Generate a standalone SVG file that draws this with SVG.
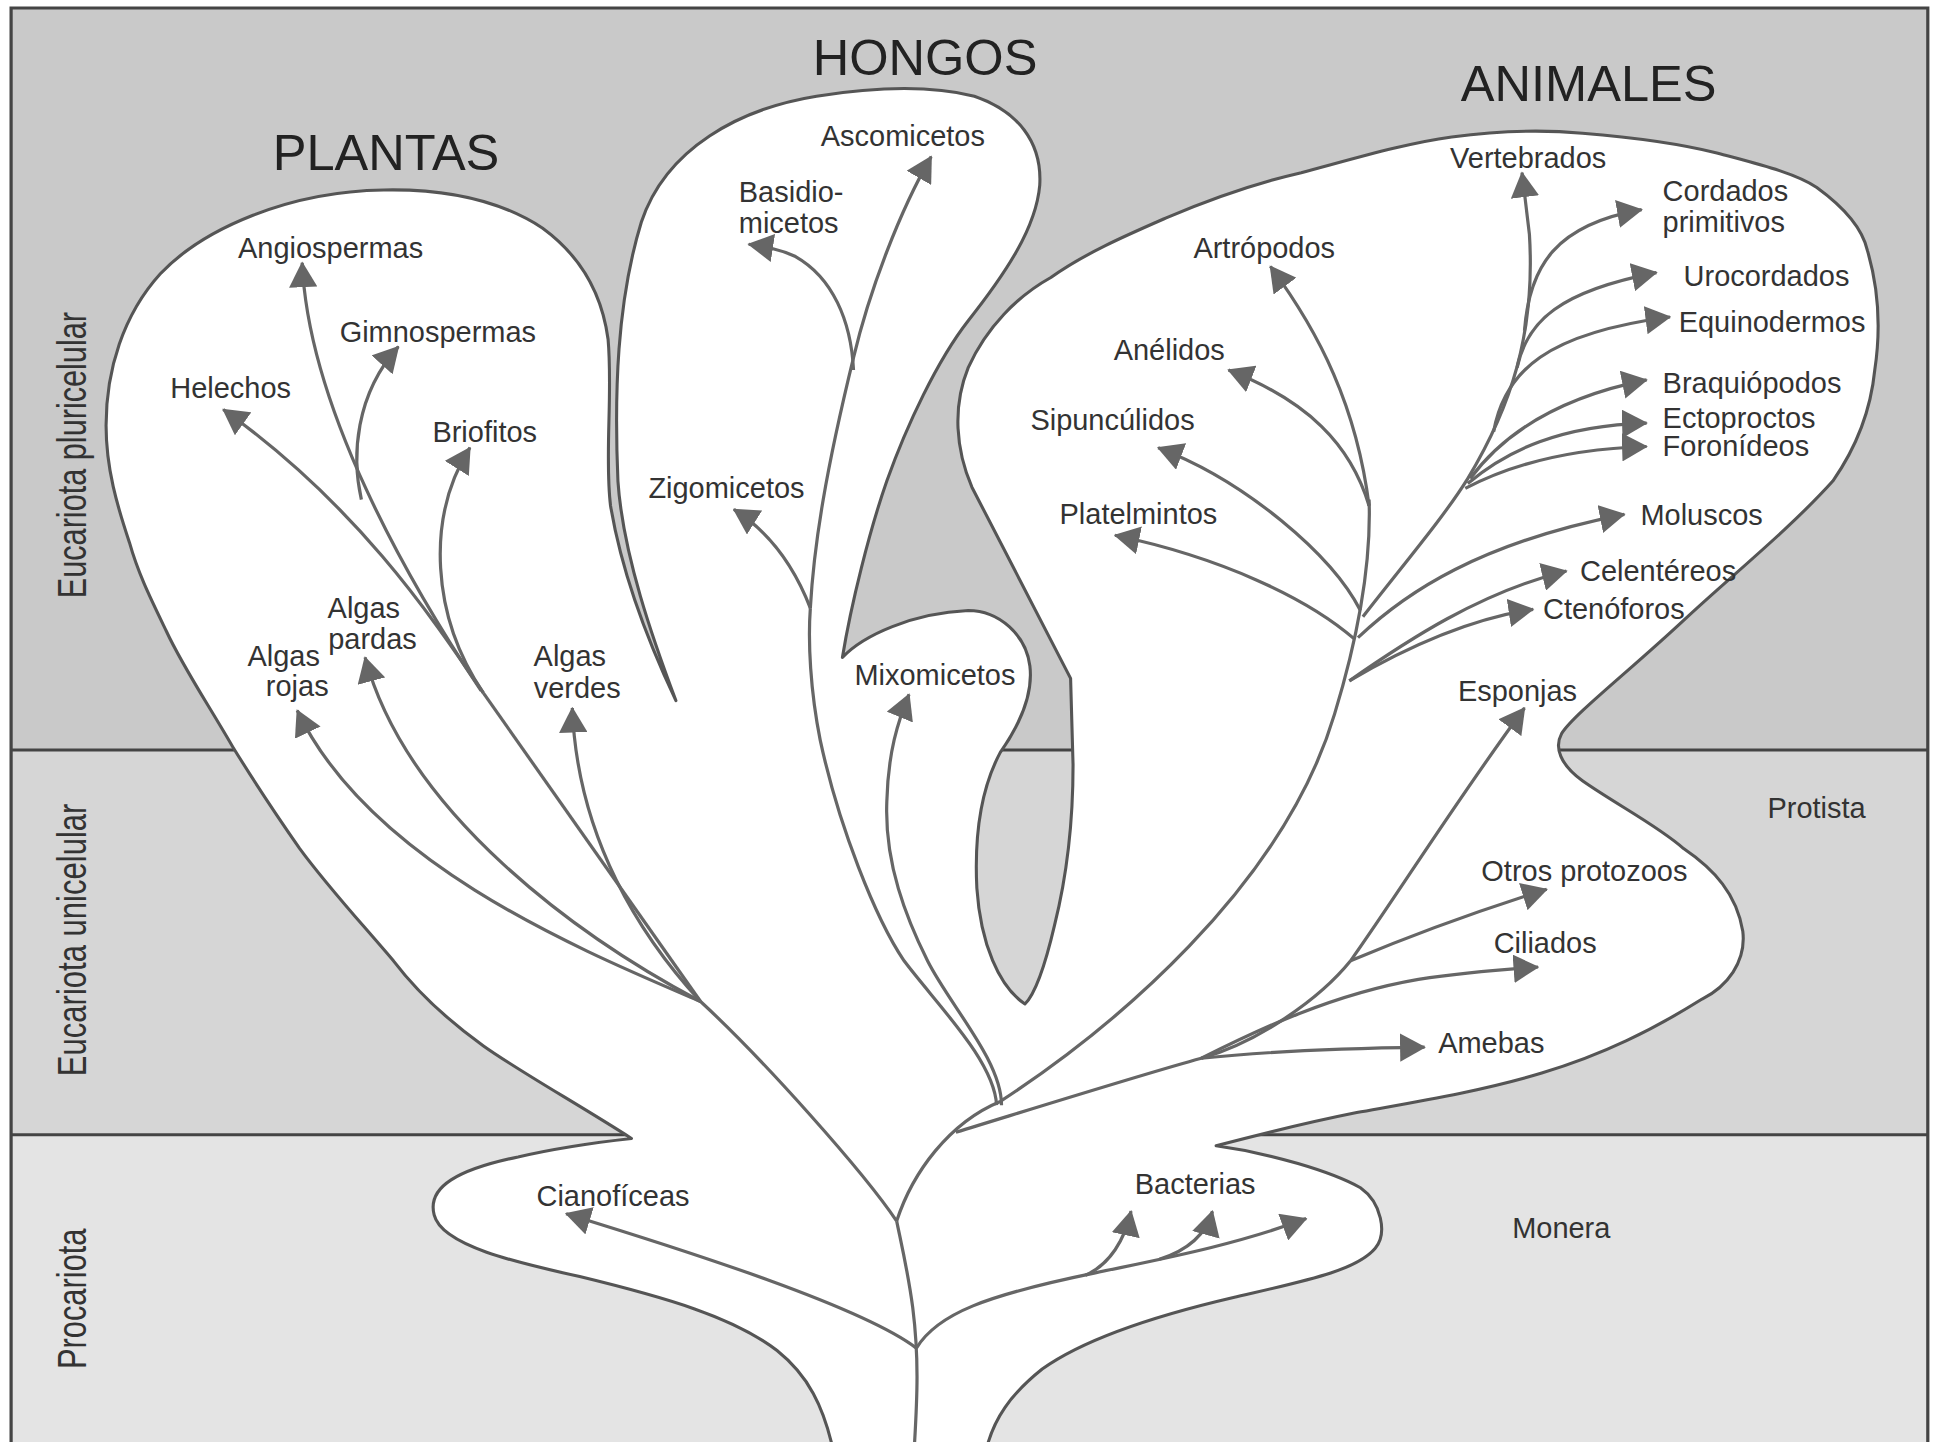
<svg xmlns="http://www.w3.org/2000/svg" width="1934" height="1442" viewBox="0 0 1934 1442">
<style>
.lbl{font-family:"Liberation Sans",Arial,sans-serif;font-size:23.5px;fill:#333}
.hdr{font-family:"Liberation Sans",Arial,sans-serif;font-size:41px;fill:#222;text-anchor:middle}
.side{font-family:"Liberation Sans",Arial,sans-serif;font-size:33px;fill:#333;text-anchor:middle}
.m{text-anchor:middle}
.st{fill:none;stroke:#666;stroke-width:2.6}
.br{fill:none;stroke:#666;stroke-width:2.6;marker-end:url(#ah)}
</style>
<defs>
<marker id="ah" viewBox="0 0 20 22" refX="19" refY="11" markerWidth="21" markerHeight="23" markerUnits="userSpaceOnUse" orient="auto"><path d="M0,0 L20,11 L0,22 Z" fill="#666"/></marker>
</defs>
<rect width="1934" height="1442" fill="#fff"/>
<g transform="scale(1.2334)">
<g id="bands">
<rect x="9" y="6.5" width="1554" height="601.5" fill="#c9c9c9"/>
<rect x="9" y="608" width="1554" height="312" fill="#d6d6d6"/>
<rect x="9" y="920" width="1554" height="260" fill="#e4e4e4"/>
<line x1="9" y1="608" x2="1563" y2="608" stroke="#444" stroke-width="2.4"/>
<line x1="9" y1="920" x2="1563" y2="920" stroke="#444" stroke-width="2.4"/>
<path d="M9,1180 L9,6.5 L1563,6.5 L1563,1180" fill="none" stroke="#444" stroke-width="2.6"/>
</g>
<path id="outline" fill="#fff" stroke="#555" stroke-width="2.5" stroke-linejoin="round" d="M676,1178 C668,1140 655,1115 630,1095 C595,1068 540,1052 470,1035 C420,1024 358,1010 352,985 C346,962 372,948 420,938 C450,931 485,926 512,923 C470,896 420,868 392,848 C360,825 335,800 319,779 C290,745 265,718 243,688 C220,655 205,632 189,606 C165,565 148,540 135,512 C122,485 112,465 105,440 C95,410 86,380 86,345 C86,300 100,255 130,222 C165,185 235,155 311,154 C360,153 405,162 440,185 C470,207 488,238 493,275 C497,320 490,370 495,410 C505,470 530,530 548,568 C530,520 505,450 501,390 C498,320 500,245 520,180 C540,120 600,88 662,78 C700,72 750,68 790,78 C825,90 845,115 843,150 C840,185 815,222 785,260 C760,292 735,345 719,390 C705,430 690,490 683,533 C700,515 740,497 785,495 C810,495 832,515 835,540 C838,565 825,590 811,610 C795,640 790,680 792,720 C795,765 810,800 831,814 C840,805 848,780 855,750 C865,710 870,670 870,620 L868,550 L788,395 C775,365 772,330 785,298 C800,265 825,240 852,225 C880,205 915,190 947,176 C985,160 1020,148 1055,140 C1100,128 1140,116 1177,111 C1215,106 1250,105 1283,108 C1320,111 1360,116 1392,124 C1425,133 1455,140 1473,152 C1495,168 1510,185 1514,203 C1522,230 1526,260 1520,300 C1516,340 1500,370 1486,390 C1450,430 1400,470 1365,503 C1320,545 1275,580 1266,595 C1260,606 1265,620 1283,633 C1310,652 1345,670 1365,688 C1390,705 1408,725 1413,755 C1416,780 1400,800 1380,810 C1340,835 1300,855 1250,870 C1200,885 1150,893 1100,902 C1060,910 1020,920 986,929 C1030,935 1080,950 1103,963 C1120,975 1125,1000 1115,1012 C1100,1030 1060,1038 1000,1052 C940,1066 880,1085 845,1110 C820,1130 805,1150 799,1178 Z"/>
<g id="connectors">
<path class="st" d="M741,1178 C744,1130 745,1100 740,1060 C736,1030 730,1005 727,990"/>
<path class="st" d="M727,990 C700,950 620,860 568,812"/>
<path class="st" d="M568,812 L392,562"/>
<path class="br" d="M392,562 C350,500 290,410 181,332"/>
<path class="br" d="M390,560 C330,470 250,330 245,213"/>
<path class="br" d="M293,405 C285,370 288,320 323,281"/>
<path class="br" d="M392,562 C350,500 345,420 381,363"/>
<path class="br" d="M568,812 C470,770 300,700 241,576"/>
<path class="br" d="M568,812 C470,760 330,660 296,533"/>
<path class="br" d="M568,812 C520,760 468,680 464,574"/>
<path class="br" d="M743,1093 C700,1060 560,1015 459,984"/>
<path class="br" d="M743,1093 C760,1065 800,1050 888,1032 C940,1021 1000,1010 1059,988"/>
<path class="br" d="M880,1034 C900,1025 912,1005 917,982"/>
<path class="br" d="M940,1021 C965,1013 978,1000 983,982"/>
<path class="st" d="M727,990 C740,950 770,910 811,893"/>
<path class="st" d="M808,896 C806,860 760,815 733,779 C710,745 680,670 665,600 C657,560 655,520 657,493"/>
<path class="br" d="M657,493 C660,440 670,380 692,290 C705,235 730,170 755,127"/>
<path class="br" d="M692,300 C690,260 675,225 645,208 C632,202 620,200 607,198"/>
<path class="br" d="M657,493 C645,462 625,432 595,413"/>
<path class="br" d="M812,896 C812,860 770,815 752,779 C735,745 717,700 719,650 C720,610 728,585 737,563"/>
<path class="st" d="M811,893 C900,835 1040,720 1082,579 C1100,520 1112,460 1110,405"/>
<path class="br" d="M1110,410 C1100,330 1070,270 1030,216"/>
<path class="br" d="M1110,410 C1095,360 1060,325 996,300"/>
<path class="br" d="M1103,495 C1080,450 1010,390 939,363"/>
<path class="br" d="M1098,518 C1060,485 990,452 904,434"/>
<path class="br" d="M1105,500 C1140,455 1170,420 1190,388 C1225,330 1245,270 1240,190 L1234,140"/>
<path class="br" d="M1236,268 C1240,215 1262,182 1331,170"/>
<path class="br" d="M1230,298 C1238,260 1265,236 1343,221"/>
<path class="br" d="M1211,350 C1220,300 1255,270 1354,257"/>
<path class="br" d="M1192,388 C1220,350 1265,322 1335,308"/>
<path class="br" d="M1190,392 C1222,365 1265,345 1335,343"/>
<path class="br" d="M1188,396 C1222,378 1270,364 1335,362"/>
<path class="br" d="M1101,517 C1140,480 1200,440 1317,417"/>
<path class="br" d="M1094,552 C1140,520 1200,480 1270,463"/>
<path class="br" d="M1094,552 C1140,525 1190,502 1243,494"/>
<path class="st" d="M775,918 C850,895 930,870 974,858 C1020,845 1070,810 1095,779"/>
<path class="br" d="M1095,779 C1130,730 1180,650 1236,574"/>
<path class="br" d="M1095,779 C1140,760 1200,738 1254,721"/>
<path class="br" d="M974,858 C1020,835 1080,806 1150,794 C1190,788 1220,786 1247,784"/>
<path class="br" d="M974,858 C1030,852 1090,850 1155,849"/>
</g>
<g id="side-labels">
<text class="side" transform="translate(70,369) rotate(-90)" textLength="232" lengthAdjust="spacingAndGlyphs">Eucariota pluricelular</text>
<text class="side" transform="translate(70,762) rotate(-90)" textLength="221" lengthAdjust="spacingAndGlyphs">Eucariota unicelular</text>
<text class="side" transform="translate(70,1053) rotate(-90)" textLength="114" lengthAdjust="spacingAndGlyphs">Procariota</text>
</g>
<g id="h-plantas"><text class="hdr" x="313" y="138">PLANTAS</text></g>
<g id="h-hongos"><text class="hdr" x="750" y="61">HONGOS</text></g>
<g id="h-animales"><text class="hdr" x="1288" y="82">ANIMALES</text></g>
<g id="n-angiospermas"><text class="lbl m" x="268" y="209">Angiospermas</text></g>
<g id="n-gimnospermas"><text class="lbl m" x="355" y="277">Gimnospermas</text></g>
<g id="n-helechos"><text class="lbl m" x="187" y="323">Helechos</text></g>
<g id="n-briofitos"><text class="lbl m" x="393" y="358">Briofitos</text></g>
<g id="n-algas-pardas"><text class="lbl m" x="295" y="501">Algas</text><text class="lbl m" x="302" y="526">pardas</text></g>
<g id="n-algas-rojas"><text class="lbl m" x="230" y="540">Algas</text><text class="lbl m" x="241" y="564">rojas</text></g>
<g id="n-algas-verdes"><text class="lbl m" x="462" y="540">Algas</text><text class="lbl m" x="468" y="566">verdes</text></g>
<g id="n-ascomicetos"><text class="lbl m" x="732" y="118">Ascomicetos</text></g>
<g id="n-basidiomicetos"><text class="lbl" x="599" y="164">Basidio-</text><text class="lbl" x="599" y="189">micetos</text></g>
<g id="n-zigomicetos"><text class="lbl m" x="589" y="404">Zigomicetos</text></g>
<g id="n-mixomicetos"><text class="lbl m" x="758" y="555">Mixomicetos</text></g>
<g id="n-artropodos"><text class="lbl m" x="1025" y="209">Artrópodos</text></g>
<g id="n-anelidos"><text class="lbl m" x="948" y="292">Anélidos</text></g>
<g id="n-sipunculidos"><text class="lbl m" x="902" y="349">Sipuncúlidos</text></g>
<g id="n-platelmintos"><text class="lbl m" x="923" y="425">Platelmintos</text></g>
<g id="n-vertebrados"><text class="lbl m" x="1239" y="136">Vertebrados</text></g>
<g id="n-cordados"><text class="lbl" x="1348" y="163">Cordados</text><text class="lbl" x="1348" y="188">primitivos</text></g>
<g id="n-urocordados"><text class="lbl" x="1365" y="232">Urocordados</text></g>
<g id="n-equinodermos"><text class="lbl" x="1361" y="269">Equinodermos</text></g>
<g id="n-braquiopodos"><text class="lbl" x="1348" y="319">Braquiópodos</text></g>
<g id="n-ectoproctos"><text class="lbl" x="1348" y="347">Ectoproctos</text></g>
<g id="n-foronideos"><text class="lbl" x="1348" y="370">Foronídeos</text></g>
<g id="n-moluscos"><text class="lbl" x="1330" y="426">Moluscos</text></g>
<g id="n-celentereos"><text class="lbl" x="1281" y="471">Celentéreos</text></g>
<g id="n-ctenoforos"><text class="lbl" x="1251" y="502">Ctenóforos</text></g>
<g id="n-esponjas"><text class="lbl" x="1182" y="568">Esponjas</text></g>
<g id="n-protista"><text class="lbl" x="1433" y="663">Protista</text></g>
<g id="n-otros"><text class="lbl" x="1201" y="714">Otros protozoos</text></g>
<g id="n-ciliados"><text class="lbl" x="1211" y="773">Ciliados</text></g>
<g id="n-amebas"><text class="lbl" x="1166" y="854">Amebas</text></g>
<g id="n-monera"><text class="lbl" x="1226" y="1004">Monera</text></g>
<g id="n-cianoficeas"><text class="lbl m" x="497" y="978">Cianofíceas</text></g>
<g id="n-bacterias"><text class="lbl m" x="969" y="968">Bacterias</text></g>
</g>
</svg>
